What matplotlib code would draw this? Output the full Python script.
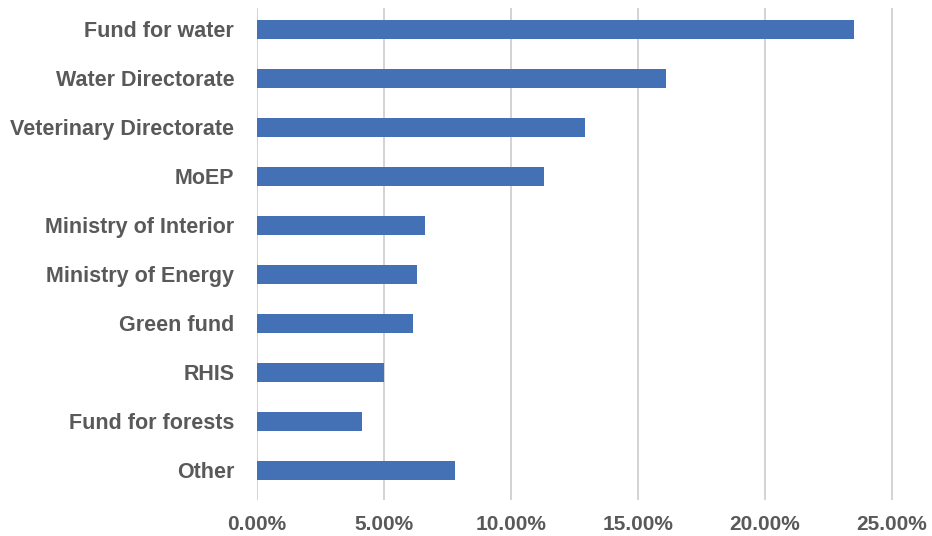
import matplotlib
matplotlib.use('Agg')
import matplotlib.pyplot as plt
from matplotlib.ticker import PercentFormatter

# dane (w %)
kategorie = ['Fund for water', 'Water Directorate', 'Veterinary Directorate', 'MoEP',
             'Ministry of Interior', 'Ministry of Energy', 'Green fund', 'RHIS',
             'Fund for forests', 'Other']
udzialy = [23.5, 16.1, 12.9, 11.3, 6.6, 6.3, 6.15, 5.0, 4.15, 7.8]
ticki_x = [0, 5, 10, 15, 20, 25]

plt.rcParams['font.family'] = ['Liberation Sans', 'DejaVu Sans']
szary = '#595959'

fig = plt.figure(figsize=(9.32, 5.36), dpi=100)
ax = fig.add_axes([0.2758, 0.0672, 0.6824, 0.9179])

pozycje = list(range(len(kategorie)))[::-1]
ax.barh(pozycje, udzialy, height=0.39, color='#4470B6', zorder=3)

ax.set_xlim(0, 25.05)
ax.set_ylim(-0.61, 9.43)
ax.set_xticks(ticki_x)
ax.xaxis.set_major_formatter(PercentFormatter(decimals=2))
ax.set_yticks(pozycje)
ax.set_yticklabels(kategorie)
ax.grid(axis='x', color='#d0d0d0', linewidth=1.3, zorder=0)
ax.tick_params(axis='both', length=0, labelcolor=szary)
ax.tick_params(axis='x', pad=11, labelsize=15)
ax.tick_params(axis='y', pad=16.5, labelsize=15.5)
for t in ax.get_xticklabels() + ax.get_yticklabels():
    t.set_fontweight('bold')
for s in ax.spines.values():
    s.set_visible(False)

plt.savefig('out.png', dpi=100)
